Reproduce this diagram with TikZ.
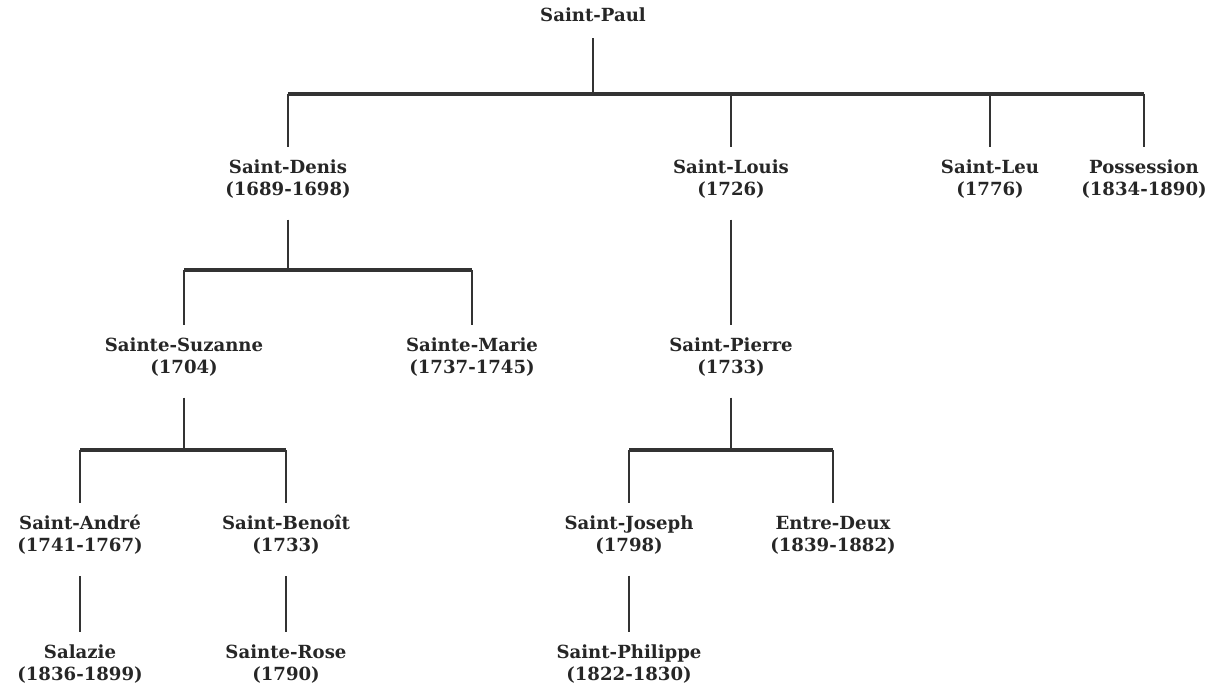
\documentclass[tikz,border=0pt]{standalone}
\usepackage{fontspec}
\setmainfont{DejaVu Serif}
\begin{document}
\begin{tikzpicture}[x=0.02cm, y=-0.02cm,
	town/.style={font=\fontsize{10.3}{12.5}\selectfont\bfseries, align=center, inner sep=0pt, text=black!85},
	link/.style={line width=1.1pt, draw=black!80},
	bus/.style={line width=2pt, draw=black!80},
	]
	\useasboundingbox (0,0) rectangle (1206,686);
	
	% towns
	\node[town] (paul) at (593,15) {Saint-Paul};
	\node[town] (denis) at (288,179) {Saint-Denis\\(1689-1698)};
	\node[town] (louis) at (731,179) {Saint-Louis\\(1726)};
	\node[town] (leu) at (990,179) {Saint-Leu\\(1776)};
	\node[town] (poss) at (1144,179) {Possession\\(1834-1890)};
	\node[town] (suzanne) at (184,357) {Sainte-Suzanne\\(1704)};
	\node[town] (marie) at (472,357) {Sainte-Marie\\(1737-1745)};
	\node[town] (pierre) at (731,357) {Saint-Pierre\\(1733)};
	\node[town] (andre) at (80,535) {Saint-André\\(1741-1767)};
	\node[town] (benoit) at (286,535) {Saint-Benoît\\(1733)};
	\node[town] (joseph) at (629,535) {Saint-Joseph\\(1798)};
	\node[town] (entre) at (833,535) {Entre-Deux\\(1839-1882)};
	\node[town] (salazie) at (80,664) {Salazie\\(1836-1899)};
	\node[town] (rose) at (286,664) {Sainte-Rose\\(1790)};
	\node[town] (philippe) at (629,664) {Saint-Philippe\\(1822-1830)};
	
	% bus lines
	\coordinate (b1) at (593,94);
	\coordinate (b2) at (288,270);
	\coordinate (b3) at (184,450);
	\coordinate (b4) at (731,450);
	
	\draw[link, shorten <=9pt] (paul.south) -- (b1);
	\draw[bus] (denis.north |- b1) -- (poss.north |- b1);
	\foreach \n in {denis,louis,leu,poss}
		\draw[link, shorten >=7pt] (\n.north |- b1) -- (\n.north);
	
	\draw[link, shorten <=12pt] (denis.south) -- (b2);
	\draw[bus] (suzanne.north |- b2) -- (marie.north |- b2);
	\foreach \n in {suzanne,marie}
		\draw[link, shorten >=7pt] (\n.north |- b2) -- (\n.north);
	
	\draw[link, shorten <=12pt, shorten >=7pt] (louis.south) -- (pierre.north);
	
	\draw[link, shorten <=12pt] (suzanne.south) -- (b3);
	\draw[bus] (andre.north |- b3) -- (benoit.north |- b3);
	\foreach \n in {andre,benoit}
		\draw[link, shorten >=7pt] (\n.north |- b3) -- (\n.north);
	
	\draw[link, shorten <=12pt] (pierre.south) -- (b4);
	\draw[bus] (joseph.north |- b4) -- (entre.north |- b4);
	\foreach \n in {joseph,entre}
		\draw[link, shorten >=7pt] (\n.north |- b4) -- (\n.north);
	
	\foreach \a/\b in {andre/salazie, benoit/rose, joseph/philippe}
		\draw[link, shorten <=12pt, shorten >=7pt] (\a.south) -- (\b.north);
	
\end{tikzpicture}
\end{document}
